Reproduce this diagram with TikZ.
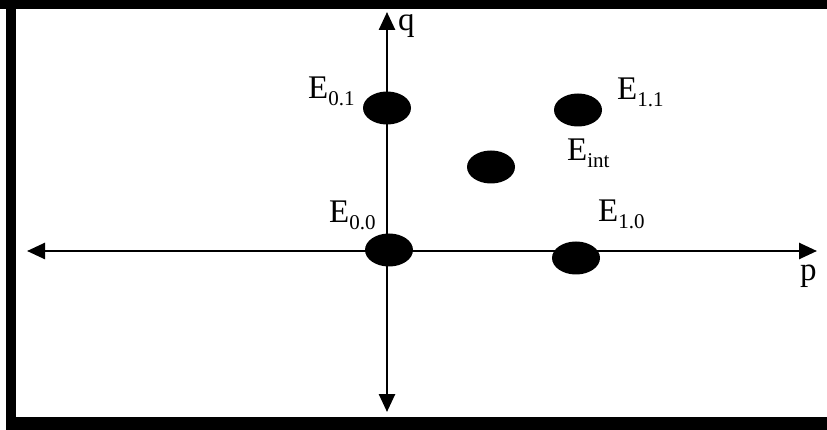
\documentclass[tikz,border=0pt]{standalone}
\usepackage{fontspec}
\setmainfont{Liberation Serif}
\usetikzlibrary{arrows.meta}
\newcommand{\lbl}[2]{E\raisebox{-7pt}{\fontsize{21}{21}\selectfont #2}}
\begin{document}
\begin{tikzpicture}[x=1pt,y=-1pt,
  axis/.style={line width=2.6pt,{Triangle[length=18pt,width=16pt]}-{Triangle[length=18pt,width=16pt]}},
  dot/.style={ellipse,fill=black,minimum width=48pt,minimum height=33pt,inner sep=0pt},
  lab/.style={anchor=base west,inner sep=0pt,font=\fontsize{33}{33}\selectfont},
  frame/.style={fill=black}]
\usetikzlibrary{shapes.geometric}
\fill[white] (0,0) rectangle (827,430);
\useasboundingbox (0,0) rectangle (827,430);
\fill[frame] (0,0) rectangle (827,9);
\fill[frame] (6,0) rectangle (16,430);
\fill[frame] (6,417) rectangle (827,430);
\coordinate (L) at (27,251);
\coordinate (R) at (817,251);
\coordinate (T) at (387,12);
\coordinate (B) at (387,412);
\draw[axis] (L) -- (R);
\draw[axis] (B) -- (T);
\node[dot] (e00) at (389,250) {};
\node[dot] (e01) at (387,108) {};
\node[dot] (e10) at (576,258) {};
\node[dot] (e11) at (578,110) {};
\node[dot] (eint) at (491,167) {};
\node[lab] (l01) at (308,99) {\lbl{E}{0.1}};
\node[lab] (l00) at (329,223) {\lbl{E}{0.0}};
\node[lab] (l10) at (598,222) {\lbl{E}{1.0}};
\node[lab] (l11) at (617,100) {\lbl{E}{1.1}};
\node[lab] (lint) at (567,161) {\lbl{E}{int}};
\node[lab] (lp) at (800,280) {p};
\node[lab] (lq) at (398,31) {q};
\end{tikzpicture}
\end{document}
